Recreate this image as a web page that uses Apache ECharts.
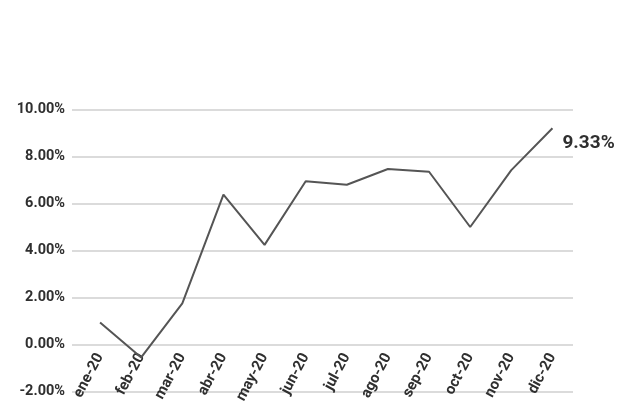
<!DOCTYPE html>
<html>
<head>
<meta charset="utf-8">
<script src="https://cdn.jsdelivr.net/npm/echarts@6/dist/echarts.min.js"></script>
<style>html,body{margin:0;padding:0;background:#fff}#c{width:632px;height:412px}</style>
</head>
<body>
<div id="c"></div>
<script>
const categories = ['ene-20','feb-20','mar-20','abr-20','may-20','jun-20','jul-20','ago-20','sep-20','oct-20','nov-20','dic-20'];
const values = [0.94, -0.55, 1.75, 6.38, 4.24, 6.95, 6.80, 7.47, 7.35, 5.00, 7.42, 9.20];
const endLabelText = '9.33%';
const yMin = -2, yMax = 10, yStep = 2;

const font = 'Roboto, "DejaVu Sans", sans-serif';
const H = 412, gridTop = 109.5, gridBottom = 20.5;
const plotH = H - gridTop - gridBottom;
// x-axis labels sit at the zero line (category axis crosses at 0)
const zeroOffset = -plotH * (0 - yMin) / (yMax - yMin);

const chart = echarts.init(document.getElementById('c'));
chart.setOption({
  animation: false,
  grid: [
    {left: 72, right: 59, top: gridTop, bottom: gridBottom, outerBoundsMode: 'none', containLabel: false},
    {left: 79.5, right: 59, top: gridTop, bottom: gridBottom, outerBoundsMode: 'none', containLabel: false}
  ],
  xAxis: [
    {gridIndex: 0, type: 'category', data: categories, show: false},
    {gridIndex: 1, type: 'category', data: categories, boundaryGap: true, position: 'bottom', offset: zeroOffset,
     axisLine: {show: false, onZero: false}, axisTick: {show: false},
     axisLabel: {rotate: 62, margin: 10, color: '#2f2f2f', fontFamily: font, fontWeight: 'bold', fontSize: 15, interval: 0}}
  ],
  yAxis: [
    {gridIndex: 0, type: 'value', min: yMin, max: yMax, interval: yStep,
     axisLine: {show: false}, axisTick: {show: false},
     splitLine: {lineStyle: {color: '#cfcfcf', width: 1.5}},
     axisLabel: {margin: 7, color: '#2f2f2f', fontFamily: font, fontWeight: 'bold', fontSize: 14.5,
       formatter: v => v.toFixed(2) + '%'}},
    {gridIndex: 1, type: 'value', min: yMin, max: yMax, interval: yStep, show: false, splitLine: {show: false}}
  ],
  series: [{
    type: 'line', xAxisIndex: 1, yAxisIndex: 1, data: values,
    symbol: 'none', lineStyle: {color: '#555', width: 2},
    endLabel: {show: true, formatter: () => endLabelText, offset: [2, 15],
      color: '#2f2f2f', fontFamily: font, fontWeight: 'bold', fontSize: 19}
  }]
});
</script>
</body>
</html>
